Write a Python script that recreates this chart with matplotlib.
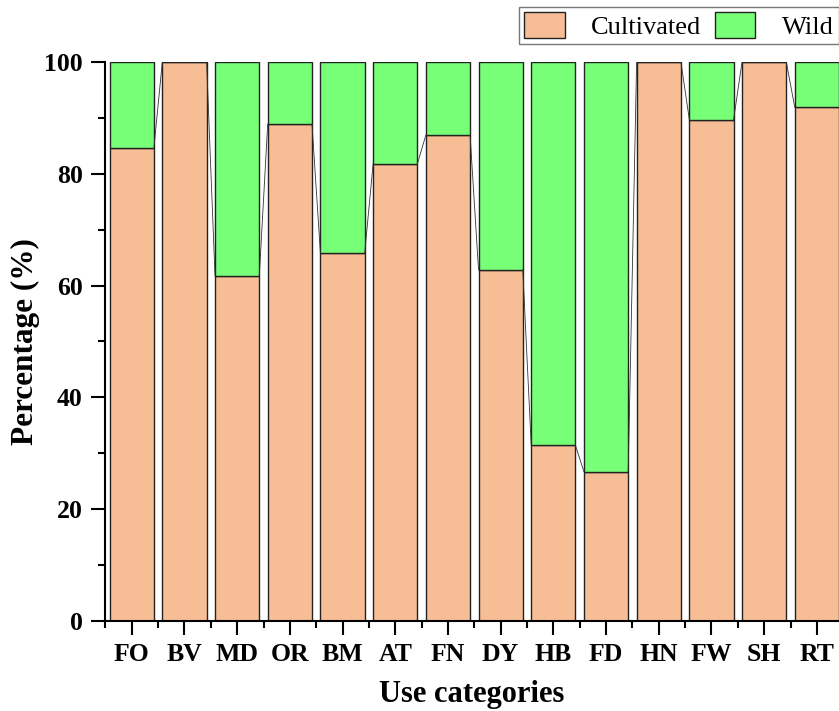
import numpy as np
import matplotlib.pyplot as plt
from matplotlib.ticker import MultipleLocator

categories = ["FO", "BV", "MD", "OR", "BM", "AT", "FN", "DY", "HB", "FD", "HN", "FW", "SH", "RT"]
cultivated = [84.6, 100, 61.7, 88.9, 65.8, 81.8, 86.9, 62.8, 31.4, 26.7, 100, 89.7, 100, 91.9]
wild = [100 - c for c in cultivated]

plt.rcParams["font.family"] = ["Liberation Serif", "DejaVu Serif"]

fig = plt.figure(figsize=(8.39, 7.11), dpi=100)
ax = fig.add_axes([0.125, 0.1266, 0.875, 0.7862])

x = np.arange(len(categories))
w = 0.84
ax.bar(x, cultivated, w, color="#F7BE95", edgecolor="#222222", linewidth=1.0, label="Cultivated")
ax.bar(x, wild, w, bottom=cultivated, color="#77FF77", edgecolor="#222222", linewidth=1.0, label="Wild")

# connect lines between the tops of the cultivated layer
for i in range(len(categories) - 1):
    ax.plot([x[i] + w / 2, x[i + 1] - w / 2], [cultivated[i], cultivated[i + 1]],
            color="#333333", linewidth=0.6, zorder=1)

ax.set_xlim(-0.51, 13.42)
ax.set_ylim(0, 100)
ax.set_xticks(x)
ax.set_xticklabels(categories)
ax.xaxis.set_minor_locator(MultipleLocator(1, offset=0.5))
ax.yaxis.set_major_locator(MultipleLocator(20))
ax.yaxis.set_minor_locator(MultipleLocator(10))

for s in ["top", "right"]:
    ax.spines[s].set_visible(False)
for s in ["left", "bottom"]:
    ax.spines[s].set_linewidth(1.5)

ax.tick_params(which="major", direction="out", length=10, width=1.5, labelsize=18.5, pad=6)
ax.tick_params(which="minor", direction="out", length=5, width=1.5)
for lab in ax.get_xticklabels() + ax.get_yticklabels():
    lab.set_fontweight("bold")

ax.set_xlabel("Use categories", fontsize=22, fontweight="bold", labelpad=10)
ax.set_ylabel("Percentage (%)", fontsize=22.5, fontweight="bold", labelpad=3)

leg = ax.legend(loc="lower right", bbox_to_anchor=(1.0, 1.032), ncol=2, fontsize=19,
                frameon=True, fancybox=False, edgecolor="#555555", borderaxespad=0,
                handlelength=1.55, handleheight=1.15, handletextpad=1.0,
                columnspacing=0.5, borderpad=0.2)
leg.get_frame().set_linewidth(1.0)

fig.savefig("out.png", dpi=100)
